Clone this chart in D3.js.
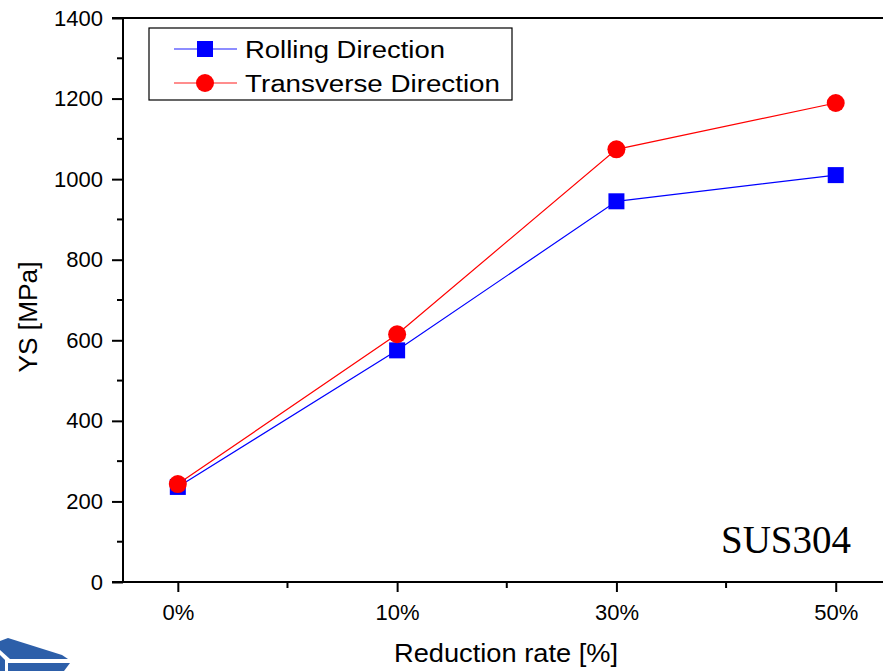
<!DOCTYPE html>
<html>
<head>
<meta charset="utf-8">
<script src="https://cdn.jsdelivr.net/npm/d3@7"></script>
<style>
  body { margin: 0; background: #fff; }
  svg { display: block; }
</style>
</head>
<body>
<svg id="chart" width="883" height="671"></svg>
<script>
const categories = ["0%", "10%", "30%", "50%"];
const rolling = [236, 575, 945, 1010];
const transverse = [243, 615, 1074, 1189];
const yTicks = [0, 200, 400, 600, 800, 1000, 1200, 1400];
const yMinorTicks = [100, 300, 500, 700, 900, 1100, 1300];
const seriesNames = ["Rolling Direction", "Transverse Direction"];

const sans = "Arial, 'Liberation Sans', sans-serif";
const serif = "'Times New Roman', 'Liberation Serif', serif";

const margin = {top: 18, left: 123, bottom: 89};
const width = 883;
const height = 671;
const plotH = height - margin.top - margin.bottom;

const svg = d3.select("#chart");

// x positions by index; domain padded half a minor step each side
const x = d3.scaleLinear()
    .domain([-0.25, 3.25])
    .range([margin.left, margin.left + 219.3 * 3.5]);

const y = d3.scaleLinear()
    .domain([0, 1400])
    .range([margin.top + plotH, margin.top]);

// logo fragment at bottom left
const logo = svg.append("g").attr("fill", "#2d5fa9");
logo.append("path").attr("d", "M0,641 L8,638 L62,655 L68,659 L10,659 L0,650 Z");
logo.append("path").attr("d", "M8,663 L70,663 L64,671 L8,671 Z");
logo.append("path").attr("d", "M0,655 L5,660 L5,671 L0,671 Z");

// axes
const yAxis = d3.axisLeft(y)
    .tickValues(yTicks)
    .tickFormat(d3.format("d"))
    .tickSize(11).tickPadding(9);
const gy = svg.append("g")
    .attr("transform", `translate(${ margin.left },0)`)
    .call(yAxis);
gy.selectAll(".tick text")
    .style("font-family", sans).style("font-size", "22px").attr("fill", "#000");
gy.selectAll(".tick line").attr("stroke-width", 2);
gy.select(".domain").attr("stroke-width", 2).attr("d", `M0,${ margin.top }V${ margin.top + plotH }`);

gy.selectAll(".minor")
    .data(yMinorTicks)
  .enter().append("line")
    .attr("x1", -6).attr("x2", 0)
    .attr("y1", (d) => y(d)).attr("y2", (d) => y(d))
    .attr("stroke", "#000").attr("stroke-width", 2);

const xAxis = d3.axisBottom(x)
    .tickValues([0, 1, 2, 3])
    .tickFormat((d) => categories[d])
    .tickSize(10).tickPadding(12);
const gx = svg.append("g")
    .attr("transform", `translate(0,${ margin.top + plotH })`)
    .call(xAxis);
gx.selectAll(".tick text")
    .style("font-family", sans).style("font-size", "22px").attr("fill", "#000");
gx.selectAll(".tick line").attr("stroke-width", 2);
gx.select(".domain").attr("stroke-width", 2).attr("d", `M${ margin.left - 11 },0H${ width }`);

gx.selectAll(".minor")
    .data([0.5, 1.5, 2.5])
  .enter().append("line")
    .attr("x1", (d) => x(d)).attr("x2", (d) => x(d))
    .attr("y1", 0).attr("y2", 6)
    .attr("stroke", "#000").attr("stroke-width", 2);

// top frame line
svg.append("line")
    .attr("x1", margin.left - 11).attr("x2", width)
    .attr("y1", margin.top).attr("y2", margin.top)
    .attr("stroke", "#000").attr("stroke-width", 2);

// axis titles
svg.append("text")
    .attr("transform", "translate(37,317) rotate(-90)")
    .attr("text-anchor", "middle")
    .style("font-family", sans).style("font-size", "25px")
    .attr("textLength", 111).attr("lengthAdjust", "spacingAndGlyphs")
    .text("YS [MPa]");

svg.append("text")
    .attr("x", 506).attr("y", 662)
    .attr("text-anchor", "middle")
    .style("font-family", sans).style("font-size", "25px")
    .attr("textLength", 224).attr("lengthAdjust", "spacingAndGlyphs")
    .text("Reduction rate [%]");

svg.append("text")
    .attr("x", 851).attr("y", 553)
    .attr("text-anchor", "end")
    .style("font-family", serif).style("font-size", "39px")
    .text("SUS304");

// series
const line = d3.line()
    .x((d, i) => x(i))
    .y((d) => y(d));

svg.append("path")
    .datum(rolling)
    .attr("fill", "none").attr("stroke", "#0000ff").attr("stroke-width", 1.2)
    .attr("d", line);

svg.append("path")
    .datum(transverse)
    .attr("fill", "none").attr("stroke", "#ff0000").attr("stroke-width", 1.2)
    .attr("d", line);

svg.selectAll(".sq")
    .data(rolling)
  .enter().append("rect")
    .attr("class", "sq")
    .attr("x", (d, i) => x(i) - 8)
    .attr("y", (d) => y(d) - 8)
    .attr("width", 16).attr("height", 16)
    .attr("fill", "#0000ff");

svg.selectAll(".dot")
    .data(transverse)
  .enter().append("circle")
    .attr("class", "dot")
    .attr("cx", (d, i) => x(i))
    .attr("cy", (d) => y(d))
    .attr("r", 9)
    .attr("fill", "#ff0000");

// legend
const legend = svg.append("g").attr("transform", "translate(149,28)");
legend.append("rect")
    .attr("x", 0).attr("y", 0)
    .attr("width", 363).attr("height", 72)
    .attr("fill", "#fff").attr("stroke", "#000").attr("stroke-width", 1.2);

const rowY = [21, 55];
const textW = [200, 255];
const colors = ["#0000ff", "#ff0000"];
seriesNames.forEach((name, i) => {
  legend.append("line")
      .attr("x1", 25).attr("x2", 88)
      .attr("y1", rowY[i]).attr("y2", rowY[i])
      .attr("stroke", colors[i]).attr("stroke-opacity", 0.6).attr("stroke-width", 1.3);
  if (i === 0) {
    legend.append("rect")
        .attr("x", 48).attr("y", rowY[i] - 8)
        .attr("width", 16).attr("height", 16)
        .attr("fill", colors[i]);
  } else {
    legend.append("circle")
        .attr("cx", 56).attr("cy", rowY[i])
        .attr("r", 9).attr("fill", colors[i]);
  }
  legend.append("text")
      .attr("x", 96).attr("y", rowY[i] + 9)
      .style("font-family", sans).style("font-size", "23px")
      .attr("textLength", textW[i]).attr("lengthAdjust", "spacingAndGlyphs")
      .text(name);
});
</script>
</body>
</html>
